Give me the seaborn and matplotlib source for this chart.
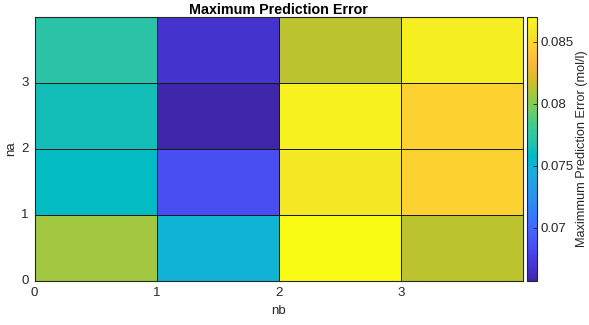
import numpy as np
import pandas as pd
import matplotlib
matplotlib.use("Agg")
import matplotlib.pyplot as plt
import seaborn as sns
from matplotlib.colors import LinearSegmentedColormap

# ---- data ----
nb_labels = ["0", "1", "2", "3"]
na_labels = ["0", "1", "2", "3"]
# rows: na = 0..3 ; columns: nb = 0..3
err_na0 = [0.0806, 0.0749, 0.0870, 0.0813]
err_na1 = [0.0759, 0.0685, 0.0859, 0.0847]
err_na2 = [0.0764, 0.0657, 0.0864, 0.0847]
err_na3 = [0.0771, 0.0668, 0.0813, 0.0862]
cbar_ticks = [0.07, 0.075, 0.08, 0.085]
cbar_ticklabels = ["0.07", "0.075", "0.08", "0.085"]

parula_data = [
[0.2422,0.1504,0.6603],[0.2504,0.1650,0.7076],[0.2578,0.1818,0.7511],[0.2647,0.1978,0.7952],
[0.2706,0.2147,0.8364],[0.2751,0.2342,0.8710],[0.2783,0.2559,0.8991],[0.2803,0.2782,0.9221],
[0.2813,0.3006,0.9414],[0.2810,0.3228,0.9579],[0.2795,0.3447,0.9717],[0.2760,0.3667,0.9829],
[0.2699,0.3892,0.9906],[0.2602,0.4123,0.9952],[0.2440,0.4358,0.9988],[0.2206,0.4603,0.9973],
[0.1963,0.4847,0.9892],[0.1834,0.5074,0.9798],[0.1786,0.5289,0.9682],[0.1764,0.5499,0.9520],
[0.1687,0.5703,0.9359],[0.1540,0.5902,0.9218],[0.1460,0.6091,0.9079],[0.1380,0.6276,0.8973],
[0.1248,0.6459,0.8883],[0.1113,0.6635,0.8763],[0.0952,0.6798,0.8598],[0.0689,0.6948,0.8394],
[0.0297,0.7082,0.8163],[0.0036,0.7203,0.7917],[0.0067,0.7312,0.7660],[0.0433,0.7411,0.7394],
[0.0964,0.7500,0.7120],[0.1408,0.7584,0.6842],[0.1717,0.7670,0.6554],[0.1938,0.7758,0.6251],
[0.2161,0.7843,0.5923],[0.2470,0.7918,0.5567],[0.2906,0.7973,0.5188],[0.3406,0.8008,0.4789],
[0.3909,0.8029,0.4354],[0.4456,0.8024,0.3909],[0.5044,0.7993,0.3480],[0.5616,0.7942,0.3045],
[0.6174,0.7876,0.2612],[0.6720,0.7793,0.2227],[0.7242,0.7698,0.1910],[0.7738,0.7598,0.1646],
[0.8203,0.7498,0.1535],[0.8634,0.7406,0.1596],[0.9035,0.7330,0.1774],[0.9393,0.7288,0.2100],
[0.9728,0.7298,0.2394],[0.9956,0.7434,0.2371],[0.9970,0.7659,0.2199],[0.9952,0.7893,0.2028],
[0.9892,0.8136,0.1885],[0.9786,0.8386,0.1766],[0.9676,0.8639,0.1643],[0.9610,0.8890,0.1537],
[0.9597,0.9135,0.1423],[0.9628,0.9373,0.1265],[0.9691,0.9606,0.1064],[0.9769,0.9839,0.0805]]
parula = LinearSegmentedColormap.from_list("parula", parula_data, N=256)

df = pd.DataFrame([err_na0, err_na1, err_na2, err_na3], index=na_labels, columns=nb_labels)

plt.rcParams['font.family'] = ['Liberation Sans', 'DejaVu Sans']
FS = 9.5
plt.rcParams['font.size'] = FS

fig = plt.figure(figsize=(5.89, 3.25), dpi=100)
W, H = 589, 325
ax = fig.add_axes([34.5/W, 1 - 280.5/H, (523 - 34.5)/W, (280.5 - 16.7)/H])
cax = fig.add_axes([527.3/W, 1 - 281/H, (536.7 - 527.3)/W, (281 - 17)/H])

vmin = min(min(err_na0), min(err_na1), min(err_na2), min(err_na3))
vmax = max(max(err_na0), max(err_na1), max(err_na2), max(err_na3))

sns.heatmap(df, ax=ax, cmap=parula, vmin=vmin, vmax=vmax, linewidths=0.6, linecolor="#1a1a1a",
            cbar=True, cbar_ax=cax)
ax.invert_yaxis()

ax.set_xticks([0, 1, 2, 3])
ax.set_xticklabels(nb_labels, rotation=0)
ax.set_yticks([0, 1, 2, 3])
ax.set_yticklabels(na_labels, rotation=0)
ax.tick_params(axis="x", direction="in", length=3, width=0.6, color="#262626",
               labelcolor="#262626", labelsize=FS, pad=5)
ax.tick_params(axis="y", direction="in", length=3, width=0.6, color="#262626",
               labelcolor="#262626", labelsize=FS, pad=4)
for s in ax.spines.values():
    s.set_visible(True)
    s.set_color("#262626")
    s.set_linewidth(0.8)
ax.set_xlabel("nb", fontsize=FS, color="#262626", labelpad=4)
ax.set_ylabel("na", fontsize=FS, color="#262626", labelpad=3)
ax.set_title("Maximum Prediction Error", fontsize=10.3, fontweight="bold", pad=2)

cb = ax.collections[0].colorbar
cb.set_ticks(cbar_ticks)
cb.set_ticklabels(cbar_ticklabels)
cax.tick_params(direction="in", length=3, width=0.6, color="#262626", labelcolor="#262626",
                labelsize=FS, pad=3)
cb.outline.set_visible(True)
cb.outline.set_edgecolor("#262626")
cb.outline.set_linewidth(0.8)
cb.set_label("Maximmum Prediction Error (mol/l)", fontsize=9.2, color="#262626", labelpad=1.5)

fig.savefig("out.png", dpi=100)
